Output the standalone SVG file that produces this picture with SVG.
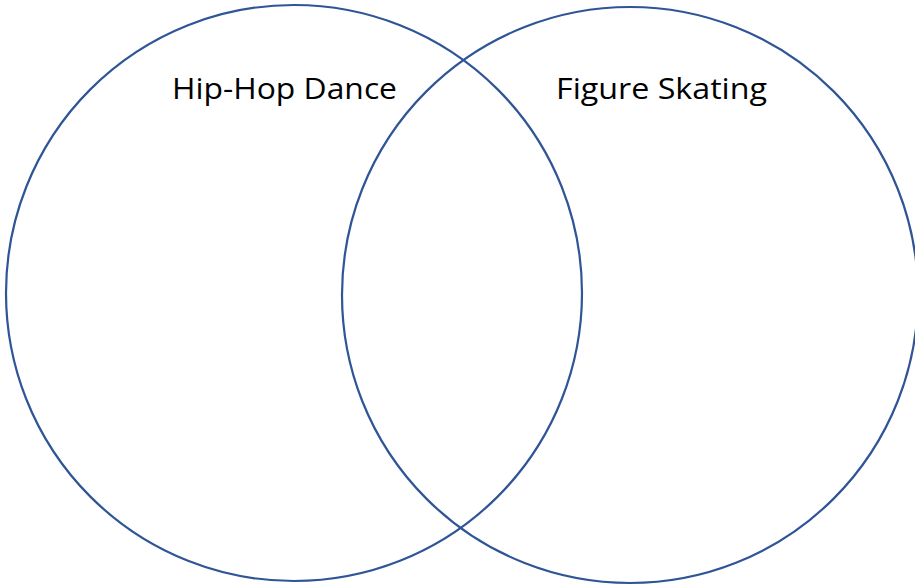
<svg xmlns="http://www.w3.org/2000/svg" width="915" height="588" viewBox="0 0 915 588">
<style>
.c{fill:none;stroke:#2F5597;stroke-width:2.2}
.t{font-family:"Open Sans","Liberation Sans",sans-serif;font-size:29px;fill:#000}
</style>
<rect width="915" height="588" fill="#fff"/>
<g id="hiphop">
<circle class="c" cx="294" cy="293" r="288"/>
<text class="t" x="172" y="99" textLength="225" lengthAdjust="spacingAndGlyphs">Hip-Hop Dance</text>
</g>
<g id="skating">
<circle class="c" cx="630" cy="295" r="288"/>
<text class="t" x="556" y="99" textLength="211" lengthAdjust="spacingAndGlyphs">Figure Skating</text>
</g>
<g id="connectors"></g>
</svg>
